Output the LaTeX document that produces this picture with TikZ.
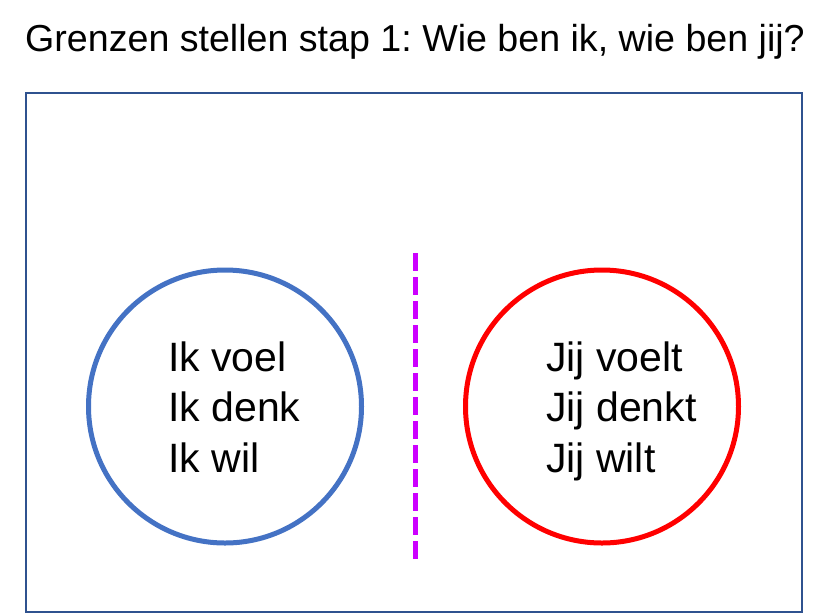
\documentclass[tikz,border=0pt]{standalone}
\usepackage{fontspec}
\setmainfont{Liberation Sans}
\frenchspacing
\definecolor{frameblue}{HTML}{2F528F}
\definecolor{meblue}{HTML}{4472C4}
\definecolor{youred}{HTML}{FF0000}
\definecolor{divider}{HTML}{CC00FF}
\begin{document}
\begin{tikzpicture}[x=1pt,y=-1pt,
  frame/.style={draw=frameblue,line width=2pt},
  ring/.style={circle,line width=5pt,minimum size=273pt,inner sep=0pt},
  words/.style={anchor=base west,inner sep=0pt,font=\fontsize{41}{50.5}\selectfont},
  titletext/.style={anchor=base,inner sep=0pt,font=\fontsize{37.6}{44}\selectfont},
  splitline/.style={draw=divider,line width=5pt,dash pattern=on 18pt off 6pt}]
\useasboundingbox (0,0) rectangle (822,614);
\node[titletext] (title) at (415,51) {Grenzen stellen stap 1: Wie ben ik, wie ben jij?};
\draw[frame] (26,93) rectangle (802,612);
\node[ring,draw=meblue] (me) at (225,406.5) {};
\node[ring,draw=youred] (you) at (602,406.5) {};
\coordinate (divtop) at (415.5,253);
\coordinate (divbot) at (415.5,559);
\draw[splitline] (divtop) -- (divbot);
\node[words] (metext) at (168,371) {\begin{tabular}[t]{@{}l@{}}Ik voel\\Ik denk\\Ik wil\end{tabular}};
\node[words] (youtext) at (546,371) {\begin{tabular}[t]{@{}l@{}}Jij voelt\\Jij denkt\\Jij wilt\end{tabular}};
\end{tikzpicture}
\end{document}
